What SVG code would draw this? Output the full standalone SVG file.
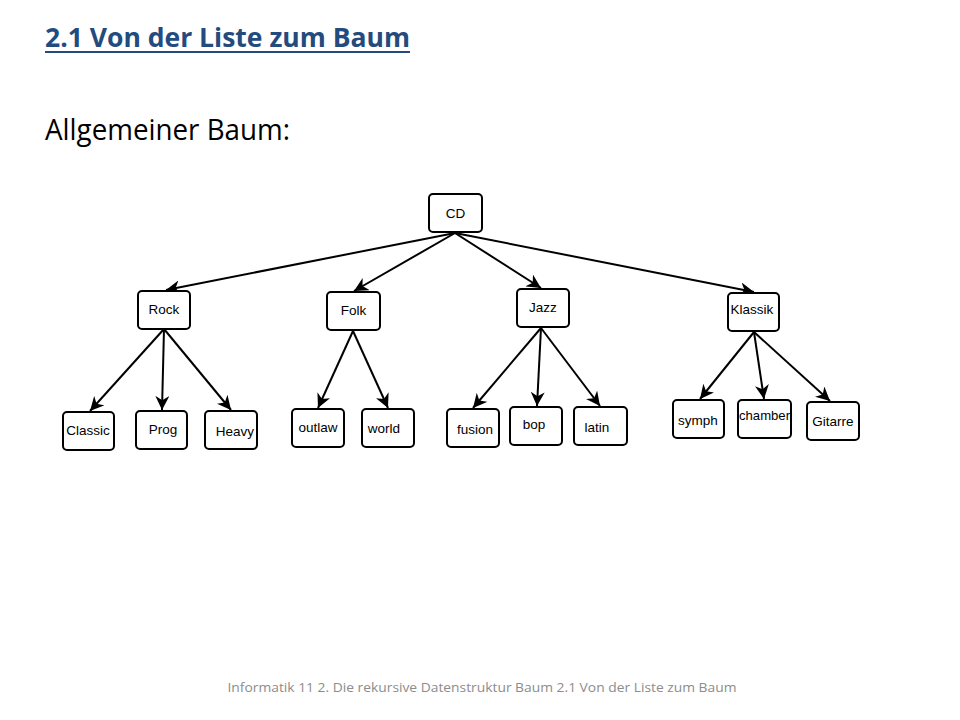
<svg xmlns="http://www.w3.org/2000/svg" width="960" height="720" viewBox="0 0 960 720">
<style>
.bg{fill:#fff}
.box rect{fill:#fff;stroke:#000;stroke-width:2}
.box text{font-family:"Liberation Sans",Arial,sans-serif;font-size:13.5px;fill:#000;text-anchor:middle}
.edge{stroke:#000;stroke-width:2;fill:none;marker-end:url(#ah)}
.title{font-family:"Open Sans","Liberation Sans",sans-serif;font-weight:bold;font-size:27px;fill:#244b7e}
.sub{font-family:"Open Sans","Liberation Sans",sans-serif;font-size:29px;fill:#000}
.foot{font-family:"Open Sans","Liberation Sans",sans-serif;font-size:13px;fill:#8c8c8c;text-anchor:middle}
</style>
<defs>
<marker id="ah" viewBox="0 0 10 10" refX="10" refY="5" markerWidth="14" markerHeight="14" markerUnits="userSpaceOnUse" orient="auto">
<path d="M0,0 L10,5 L0,10 L3,5 z" fill="#000"/>
</marker>
</defs>
<rect class="bg" x="0" y="0" width="960" height="720"/>
<text class="title" x="45" y="47" textLength="365" lengthAdjust="spacingAndGlyphs">2.1 Von der Liste zum Baum</text>
<rect x="45" y="51" width="365" height="2" fill="#244b7e"/>
<text class="sub" x="45" y="140" textLength="245" lengthAdjust="spacingAndGlyphs">Allgemeiner Baum:</text>

<g id="connectors">
<line class="edge" x1="455" y1="233" x2="166" y2="290"/>
<line class="edge" x1="455" y1="233" x2="354" y2="291"/>
<line class="edge" x1="455" y1="233" x2="541" y2="288"/>
<line class="edge" x1="455" y1="233" x2="754" y2="292"/>
<line class="edge" x1="164" y1="329" x2="90" y2="411"/>
<line class="edge" x1="164" y1="329" x2="162" y2="410"/>
<line class="edge" x1="164" y1="329" x2="231" y2="410"/>
<line class="edge" x1="353" y1="331" x2="318" y2="408"/>
<line class="edge" x1="353" y1="331" x2="388" y2="408"/>
<line class="edge" x1="541" y1="328" x2="473" y2="408"/>
<line class="edge" x1="541" y1="328" x2="537" y2="406"/>
<line class="edge" x1="541" y1="328" x2="600" y2="406"/>
<line class="edge" x1="754" y1="332" x2="700" y2="399"/>
<line class="edge" x1="754" y1="332" x2="764" y2="399"/>
<line class="edge" x1="754" y1="332" x2="830" y2="401"/>
</g>

<g id="n-cd" class="box"><rect x="429" y="194" width="53" height="38" rx="4"/><text x="455.5" y="218">CD</text></g>
<g id="n-rock" class="box"><rect x="138" y="291" width="52" height="38" rx="4"/><text x="164" y="314">Rock</text></g>
<g id="n-folk" class="box"><rect x="327" y="292" width="53" height="38" rx="4"/><text x="353.5" y="315">Folk</text></g>
<g id="n-jazz" class="box"><rect x="517" y="289" width="52" height="38" rx="4"/><text x="543" y="312">Jazz</text></g>
<g id="n-klassik" class="box"><rect x="728" y="293" width="51" height="38" rx="4"/><text x="752" y="314">Klassik</text></g>

<g id="n-classic" class="box"><rect x="63" y="412" width="51" height="38" rx="4"/><text x="88" y="435">Classic</text></g>
<g id="n-prog" class="box"><rect x="136" y="411" width="51" height="38" rx="4"/><text x="163" y="434">Prog</text></g>
<g id="n-heavy" class="box"><rect x="205" y="411" width="52" height="38" rx="4"/><text x="235" y="436">Heavy</text></g>
<g id="n-outlaw" class="box"><rect x="292" y="409" width="52" height="38" rx="4"/><text x="318" y="432">outlaw</text></g>
<g id="n-world" class="box"><rect x="362" y="409" width="52" height="38" rx="4"/><text x="384" y="433">world</text></g>
<g id="n-fusion" class="box"><rect x="447" y="409" width="52" height="38" rx="4"/><text x="475" y="434">fusion</text></g>
<g id="n-bop" class="box"><rect x="510" y="407" width="52" height="38" rx="4"/><text x="534" y="429">bop</text></g>
<g id="n-latin" class="box"><rect x="574" y="407" width="53" height="38" rx="4"/><text x="597" y="432">latin</text></g>
<g id="n-symph" class="box"><rect x="673" y="400" width="51" height="38" rx="4"/><text x="698" y="425">symph</text></g>
<g id="n-chamber" class="box"><rect x="738" y="400" width="53" height="38" rx="4"/><text x="764.5" y="420" textLength="51" lengthAdjust="spacingAndGlyphs">chamber</text></g>
<g id="n-gitarre" class="box"><rect x="807" y="402" width="52" height="38" rx="4"/><text x="833" y="426">Gitarre</text></g>

<text class="foot" x="482" y="692" textLength="509" lengthAdjust="spacingAndGlyphs">Informatik 11 2. Die rekursive Datenstruktur Baum  2.1 Von der Liste zum Baum</text>
</svg>
